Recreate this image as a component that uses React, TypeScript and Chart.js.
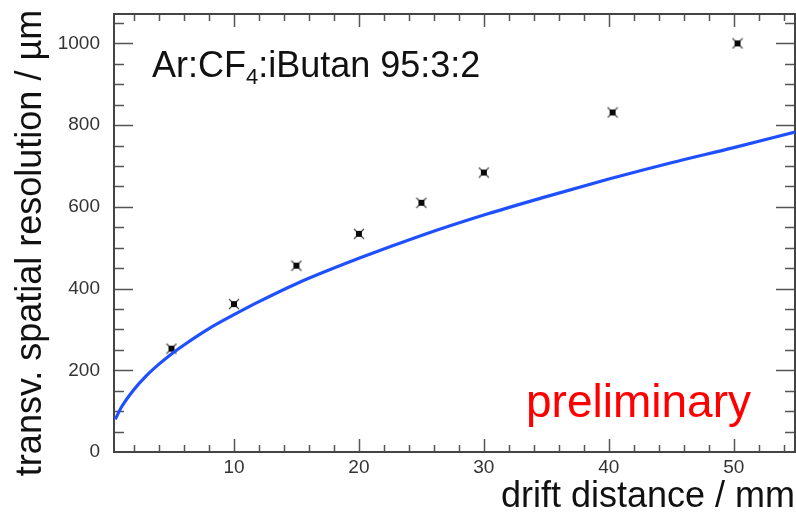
import React, { useEffect, useRef } from "react";
import { Chart, registerables } from "chart.js";

Chart.register(...registerables);

// Measured points (drift distance / mm, resolution / µm)
const pointX = [5, 10, 15, 20, 25, 30, 40.3, 50.3];
const pointY = [253, 362, 456, 534, 610, 684, 831, 1000];

// Fit curve
const fitX = [0.5, 1, 2, 3, 4, 5, 6, 8, 10, 12, 15, 20, 25, 30, 35, 40, 45, 50, 54.9];
const fitY = [80, 110, 153, 187, 215, 240, 262, 302, 336, 368, 412, 474, 530, 580, 625, 668, 708, 745, 783];

const xTicks = [10, 20, 30, 40, 50];
const yTicks = [0, 200, 400, 600, 800, 1000];

const FONT = "'Liberation Sans', Arial, Helvetica, sans-serif";

function makeMarker(): HTMLCanvasElement {
  const c = document.createElement("canvas");
  c.width = 12;
  c.height = 12;
  const g = c.getContext("2d")!;
  g.strokeStyle = "rgba(40,40,40,0.85)";
  g.lineWidth = 1.2;
  g.beginPath();
  g.moveTo(1, 1); g.lineTo(11, 11);
  g.moveTo(11, 1); g.lineTo(1, 11);
  g.stroke();
  g.fillStyle = "#0a0a0a";
  g.fillRect(3, 3, 6, 6);
  return c;
}

const frameTicks = {
  id: "frameTicks",
  beforeDatasetsDraw(chart: any) {
    const { ctx, chartArea, scales } = chart;
    const { left, right, top, bottom } = chartArea;
    const x = scales.x;
    const y = scales.y;
    ctx.save();
    ctx.strokeStyle = "#555";
    ctx.lineWidth = 1.5;
    ctx.beginPath();
    for (let v = 2; v <= x.max; v += 2) {
      const px = Math.round(x.getPixelForValue(v)) + 0.5;
      if (px < left || px > right) continue;
      const len = v % 10 === 0 ? 13 : 7;
      ctx.moveTo(px, bottom); ctx.lineTo(px, bottom - len);
      ctx.moveTo(px, top); ctx.lineTo(px, top + len);
    }
    for (let v = 50; v <= y.max; v += 50) {
      const py = Math.round(y.getPixelForValue(v)) + 0.5;
      if (py < top || py > bottom) continue;
      const len = v % 200 === 0 ? 19 : 10;
      ctx.moveTo(left, py); ctx.lineTo(left + len, py);
      ctx.moveTo(right, py); ctx.lineTo(right - len, py);
    }
    ctx.stroke();
    ctx.strokeStyle = "#444";
    ctx.lineWidth = 2;
    ctx.strokeRect(left, top, right - left, bottom - top);
    ctx.restore();
  },
};

const annotations = {
  id: "annotations",
  afterDraw(chart: any) {
    const { ctx } = chart;
    ctx.save();
    ctx.textBaseline = "alphabetic";
    ctx.textAlign = "left";
    ctx.fillStyle = "#111";
    let xPos = 152;
    const base = 77;
    ctx.font = `36px ${FONT}`;
    ctx.fillText("Ar:CF", xPos, base);
    xPos += ctx.measureText("Ar:CF").width;
    ctx.font = `22px ${FONT}`;
    ctx.fillText("4", xPos, base + 7);
    xPos += ctx.measureText("4").width;
    ctx.font = `36px ${FONT}`;
    ctx.fillText(":iButan 95:3:2", xPos, base);

    ctx.fillStyle = "#ff0000";
    ctx.font = `46px ${FONT}`;
    ctx.fillText("preliminary", 526, 417);
    ctx.restore();
  },
};

export default function App() {
  const ref = useRef<HTMLCanvasElement | null>(null);

  useEffect(() => {
    if (!ref.current) return;
    const marker = makeMarker();
    const chart = new Chart(ref.current, {
      type: "scatter",
      data: {
        datasets: [
          {
            label: "fit",
            data: fitX.map((x, i) => ({ x, y: fitY[i] })),
            showLine: true,
            borderColor: "#1f50ff",
            borderWidth: 3.2,
            pointRadius: 0,
            cubicInterpolationMode: "monotone",
          } as any,
          {
            label: "data",
            data: pointX.map((x, i) => ({ x, y: pointY[i] })),
            showLine: false,
            pointStyle: marker as any,
            pointRadius: 6,
          },
        ],
      },
      options: {
        responsive: false,
        animation: false,
        layout: { autoPadding: false, padding: { top: 14, right: 1, left: 0, bottom: 0 } },
        plugins: {
          legend: { display: false },
          tooltip: { enabled: false },
        },
        scales: {
          x: {
            type: "linear",
            min: 0.4,
            max: 54.9,
            grid: { display: false, drawTicks: false },
            border: { display: false },
            afterBuildTicks: (s: any) => {
              s.ticks = xTicks.map((v) => ({ value: v }));
            },
            afterFit: (s: any) => {
              s.height = 63;
              s.paddingLeft = 0;
              s.paddingRight = 0;
            },
            ticks: {
              padding: 4,
              color: "#333",
              font: { family: FONT, size: 19 },
              maxRotation: 0,
              autoSkip: false,
              callback: (v: any) => String(v),
            },
            title: {
              display: true,
              text: "drift distance / mm",
              align: "end",
              color: "#111",
              font: { family: FONT, size: 36 },
              padding: { top: 0, bottom: -4 },
            },
          },
          y: {
            type: "linear",
            min: 0,
            max: 1072,
            grid: { display: false, drawTicks: false },
            border: { display: false },
            afterBuildTicks: (s: any) => {
              s.ticks = yTicks.map((v) => ({ value: v }));
            },
            afterFit: (s: any) => {
              s.width = 114;
              s.paddingTop = 0;
              s.paddingBottom = 0;
            },
            ticks: {
              padding: 14,
              color: "#333",
              font: { family: FONT, size: 19 },
              autoSkip: false,
              callback: (v: any) => String(v),
            },
            title: {
              display: true,
              text: "transv. spatial resolution / µm\u00a0\u00a0",
              color: "#111",
              font: { family: FONT, size: 36 },
              padding: { top: 9, bottom: 0 },
            },
          },
        },
      },
      plugins: [frameTicks, annotations],
    });
    return () => chart.destroy();
  }, []);

  return (
    <div style={{ position: "absolute", left: 0, top: 0, width: 796, height: 515, background: "#fff" }}>
      <canvas ref={ref} width={796} height={515} style={{ display: "block" }} />
    </div>
  );
}
